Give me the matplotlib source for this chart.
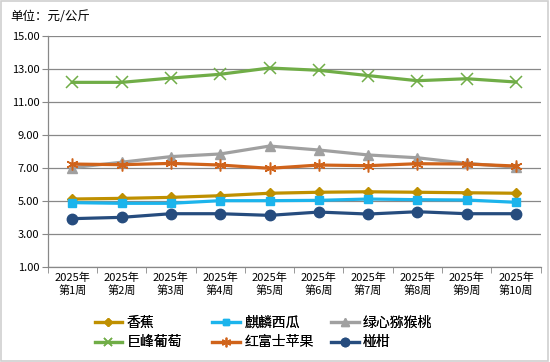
import matplotlib
matplotlib.use("Agg")
import matplotlib.pyplot as plt
from matplotlib.patches import Rectangle

plt.rcParams['font.family'] = ['Noto Sans CJK SC', 'DejaVu Sans']

weeks = ["2025年\n第1周", "2025年\n第2周", "2025年\n第3周", "2025年\n第4周", "2025年\n第5周",
         "2025年\n第6周", "2025年\n第7周", "2025年\n第8周", "2025年\n第9周", "2025年\n第10周"]
banana = [5.12, 5.16, 5.22, 5.32, 5.47, 5.53, 5.56, 5.53, 5.50, 5.47]
watermelon = [4.90, 4.86, 4.86, 5.02, 5.02, 5.04, 5.12, 5.08, 5.06, 4.92]
kiwi = [7.02, 7.35, 7.69, 7.85, 8.33, 8.09, 7.79, 7.62, 7.28, 7.05]
grape = [12.19, 12.19, 12.45, 12.68, 13.06, 12.92, 12.60, 12.29, 12.41, 12.21]
apple = [7.24, 7.20, 7.28, 7.18, 6.98, 7.18, 7.14, 7.26, 7.24, 7.12]
tangerine = [3.93, 4.01, 4.23, 4.23, 4.13, 4.33, 4.21, 4.35, 4.23, 4.23]
y_ticks = [1.00, 3.00, 5.00, 7.00, 9.00, 11.00, 13.00, 15.00]

fig = plt.figure(figsize=(5.5, 3.62), dpi=100)
fig.patches.append(Rectangle((0.002, 0.003), 0.995, 0.993, transform=fig.transFigure,
                             fill=False, edgecolor='#D0D0D0', linewidth=1.2))
ax = fig.add_axes([0.0867, 0.2624, 0.8963, 0.6382])

x = list(range(len(weeks)))
lw = 2.3
h_banana, = ax.plot(x, banana, color='#BF9000', lw=lw, marker='D', ms=5.5, label='香蕉')
h_wm, = ax.plot(x, watermelon, color='#1CB4EC', lw=lw, marker='s', ms=5.5, label='麒麟西瓜')
h_kiwi, = ax.plot(x, kiwi, color='#A0A0A0', lw=lw, marker='^', ms=7.5, label='绿心猕猴桃')
h_grape, = ax.plot(x, grape, color='#70AD47', lw=lw, marker='x', ms=8, mew=1.1, label='巨峰葡萄')
h_apple, = ax.plot(x, apple, color='#D0631A', lw=lw, marker=(6, 2, 0), ms=8.5, mew=1.1, label='红富士苹果')
h_tang, = ax.plot(x, tangerine, color='#264C7E', lw=lw, marker='o', ms=7.5, label='椪柑')

ax.set_xlim(-0.5, len(weeks) - 0.5)
ax.set_ylim(1, 15)
ax.set_yticks(y_ticks)
ax.set_yticklabels([f"{v:.2f}" for v in y_ticks], fontsize=8)
ax.set_xticks(x)
ax.set_xticklabels(weeks, fontsize=8, linespacing=1.3)
ax.tick_params(axis='x', length=0, pad=4)
ax.set_xticks([i - 0.5 for i in range(len(weeks) + 1)], minor=True)
ax.tick_params(axis='x', which='minor', length=4, color='#888888')
ax.tick_params(axis='y', length=4, color='#888888', pad=2)
ax.grid(axis='y', color='#888888', lw=0.9)
ax.set_axisbelow(True)
for s in ['top', 'right']:
    ax.spines[s].set_visible(False)
for s in ['left', 'bottom']:
    ax.spines[s].set_color('#888888')
    ax.spines[s].set_linewidth(0.9)

fig.text(0.018, 0.955, '单位：元/公斤', fontsize=9, va='center', ha='left')

columns = [(h_banana, h_grape), (h_wm, h_apple), (h_kiwi, h_tang)]
col_x = [0.172, 0.386, 0.602]
for cx, hs in zip(col_x, columns):
    leg = fig.legend(handles=list(hs), labels=[h.get_label() for h in hs],
                     loc='center left', bbox_to_anchor=(cx, 0.081), frameon=False,
                     fontsize=10, handlelength=2.0, labelspacing=0.4, markerscale=0.8,
                     handletextpad=0.3, borderpad=0, borderaxespad=0)
    fig.add_artist(leg)

fig.savefig('out.png', dpi=100)
